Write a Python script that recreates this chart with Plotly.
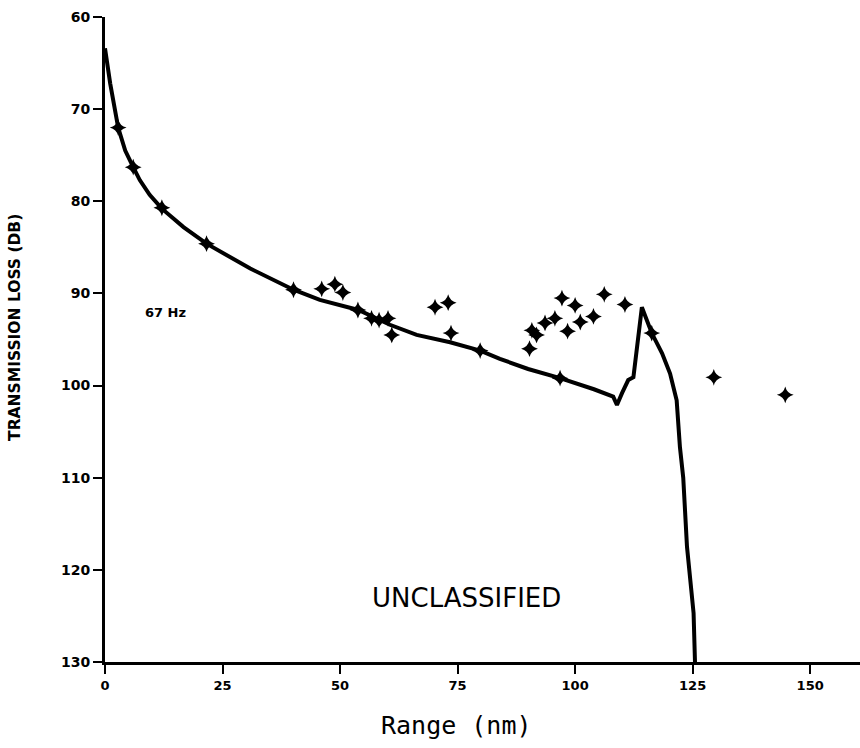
import plotly.graph_objects as go

# Model curve: range (nm) vs transmission loss (dB)
curve_range = [0, 1.1, 2.8, 4.3, 6.0, 7.4, 9.5, 12.1, 16.7, 21.6, 30.9, 40.1, 45.7,
               53.9, 60.6, 66.3, 73.4, 79.8, 84.0, 90.0, 96.8, 104.0, 108.1, 108.9,
               110.0, 111.3, 112.4, 114.2, 116.3, 118.5, 120.2, 121.6, 122.3, 123.0,
               123.8, 125.2, 125.5]
curve_loss = [63.4, 67.2, 72.0, 74.5, 76.3, 77.7, 79.3, 80.8, 82.8, 84.6, 87.3, 89.6, 90.7,
              91.8, 93.4, 94.5, 95.3, 96.2, 97.1, 98.2, 99.2, 100.4, 101.2, 102.1,
              100.8, 99.4, 99.1, 91.5, 94.3, 96.5, 98.7, 101.6, 106.7, 110.0,
              117.5, 124.7, 130.0]

# Measured data points
meas_range = [2.8, 6.0, 12.1, 21.6, 40.1, 46.1, 48.9, 50.6, 53.8, 56.7, 58.3, 60.2, 61.0,
              70.2, 73.0, 73.6, 79.8, 90.3, 90.8, 91.8, 93.6, 95.7, 96.8, 97.2, 98.4, 100.0,
              101.1, 103.9, 106.2, 110.6, 116.3, 129.5, 144.7]
meas_loss = [72.0, 76.3, 80.7, 84.6, 89.6, 89.5, 89.0, 89.9, 91.8, 92.7, 92.9, 92.7, 94.5,
             91.5, 91.0, 94.3, 96.2, 96.0, 94.0, 94.5, 93.2, 92.7, 99.2, 90.5, 94.1, 91.3,
             93.1, 92.5, 90.1, 91.2, 94.3, 99.1, 101.0]

x_ticks = [0, 25, 50, 75, 100, 125, 150]
y_ticks = [60, 70, 80, 90, 100, 110, 120, 130]

fig = go.Figure()
fig.add_trace(go.Scatter(x=curve_range, y=curve_loss, mode="lines",
                         line=dict(color="black", width=4), showlegend=False))
fig.add_trace(go.Scatter(x=meas_range, y=meas_loss, mode="markers",
                         marker=dict(symbol="star-diamond", size=12, color="black"),
                         showlegend=False))

fig.add_annotation(x=12.8, y=92.1, text="67 Hz", showarrow=False,
                   font=dict(family="DejaVu Sans", size=13, color="black", weight="bold"))
fig.add_annotation(x=77.0, y=123.0, text="UNCLASSIFIED", showarrow=False,
                   font=dict(family="DejaVu Sans", size=26, color="black"))
# axis titles
fig.add_annotation(xref="paper", yref="paper", x=0.4662, y=-0.0977, text="Range (nm)",
                   showarrow=False, xanchor="center", yanchor="middle",
                   font=dict(family="DejaVu Sans Mono", size=25, color="black"))
fig.add_annotation(xref="paper", yref="paper", x=-0.1192, y=0.518,
                   text="TRANSMISSION LOSS (DB)", textangle=-90, showarrow=False,
                   xanchor="center", yanchor="middle",
                   font=dict(family="DejaVu Sans", size=15.5, color="black", weight="bold"))

fig.update_layout(
    width=860, height=748,
    margin=dict(l=105, r=0, t=17, b=86),
    paper_bgcolor="white", plot_bgcolor="white",
    font=dict(family="DejaVu Sans", color="black"),
    xaxis=dict(range=[0, 160.6], tickvals=x_ticks, ticktext=[str(v) for v in x_ticks],
               showgrid=False, zeroline=False, showline=True, linecolor="black",
               linewidth=3, ticks="outside", ticklen=9, tickwidth=2, tickcolor="black",
               tickfont=dict(family="DejaVu Sans", size=13, weight="bold")),
    yaxis=dict(range=[130, 60], tickvals=y_ticks, ticktext=[str(v) for v in y_ticks],
               showgrid=False, zeroline=False, showline=True, linecolor="black",
               linewidth=3, ticks="outside", ticklen=9, tickwidth=2, tickcolor="black",
               tickfont=dict(family="DejaVu Sans", size=14, weight="bold")),
)

fig.write_html("out.html")
